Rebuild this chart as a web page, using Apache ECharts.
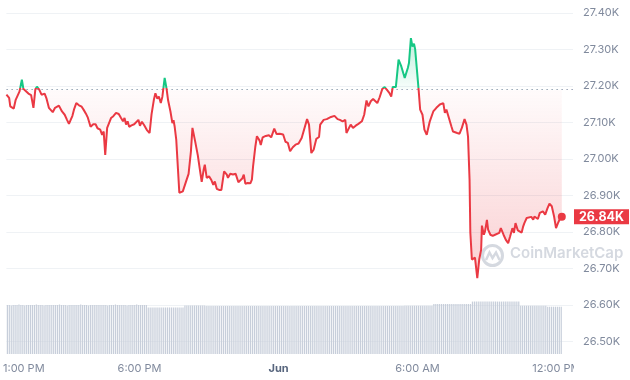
<!DOCTYPE html>
<html>
<head>
<meta charset="utf-8">
<script src="https://cdn.jsdelivr.net/npm/echarts@6/dist/echarts.min.js"></script>
<style>html,body{margin:0;padding:0;background:#fff}#c{width:630px;height:380px}</style>
</head>
<body>
<div id="c"></div>
<script>
// Times: minutes since 00:00 May 31; prices in USD
const times = [
735,742,745,754,759,764,769,775,779,785,
792,799,805,810,814,820,826,834,839,845,
850,855,861,866,871,879,886,892,897,902,
906,910,916,923,930,936,941,946,953,960,
966,971,975,978,983,987,991,996,1000,1006,
1012,1019,1026,1032,1037,1041,1045,1049,1053,1059,
1066,1071,1077,1081,1086,1092,1099,1106,1111,1117,
1121,1126,1130,1135,1139,1145,1150,1154,1160,1165,
1168,1171,1175,1179,1183,1188,1192,1197,1202,1207,
1213,1217,1224,1231,1237,1241,1246,1249,1254,1260,
1266,1271,1275,1280,1286,1292,1299,1306,1309,1315,
1322,1329,1336,1341,1346,1350,1354,1360,1367,1371,
1374,1380,1384,1391,1394,1399,1407,1415,1421,1429,
1435,1443,1452,1458,1464,1470,1477,1484,1492,1500,
1505,1514,1519,1525,1531,1538,1545,1548,1557,1565,
1576,1585,1593,1599,1606,1613,1616,1621,1627,1633,
1640,1647,1656,1662,1668,1673,1679,1685,1690,1696,
1702,1709,1715,1722,1727,1732,1736,1741,1744,1751,
1758,1767,1775,1778,1783,1787,1791,1794,1798,1803,
1807,1813,1818,1824,1828,1832,1841,1849,1858,1867,
1871,1875,1879,1888,1892,1896,1903,1909,1915,1922,
1927,1931,1935,1937,1941,1946,1949,1955,1960,1965,
1967,1972,1975,1980,1983,1989,1995,2001,2006,2012,
2016,2023,2029,2035,2040,2046,2050,2054,2060,2065,
2070,2074,2077,2083,2088,2095,2100,2103,2108,2112,
2117,2120,2125,2131,2137,2142,2148,2154,2159,2164,
2168,2174
];
const prices = [
27176,27167,27144,27138,27162,27161,27185,27217,27192,27186,
27179,27175,27140,27191,27198,27190,27176,27179,27165,27140,
27144,27128,27140,27136,27146,27130,27121,27107,27096,27098,
27118,27135,27153,27147,27143,27133,27124,27113,27088,27095,
27095,27084,27088,27080,27066,27075,27011,27085,27088,27112,
27117,27126,27123,27112,27103,27112,27094,27103,27088,27092,
27095,27090,27107,27091,27102,27092,27079,27071,27122,27162,
27180,27165,27171,27153,27170,27222,27192,27160,27130,27098,
27106,27088,27053,27055,26907,26902,26911,26906,26943,26959,
27020,27085,27048,27009,26965,26937,26970,26984,26948,26952,
26942,26929,26938,26918,26915,26915,26966,26957,26948,26959,
26957,26959,26936,26932,26946,26957,26932,26934,26933,26943,
26979,27034,27062,27050,27038,27059,27063,27065,27059,27083,
27068,27069,27067,27047,27044,27021,27032,27039,27042,27057,
27062,27109,27094,27016,27025,27055,27060,27094,27107,27109,
27115,27118,27109,27107,27103,27107,27071,27069,27094,27085,
27091,27096,27103,27121,27160,27144,27158,27164,27160,27153,
27169,27192,27197,27188,27181,27171,27197,27201,27197,27272,
27254,27222,27249,27263,27331,27308,27316,27301,27299,27190,
27135,27121,27080,27066,27071,27103,27130,27140,27149,27153,
27126,27135,27121,27089,27075,27080,27071,27069,27085,27109,
27094,27061,26943,26798,26724,26719,26729,26673,26724,26751,
26817,26792,26801,26833,26806,26792,26789,26792,26787,26797,
26810,26792,26778,26769,26787,26810,26797,26824,26804,26808,
26798,26815,26824,26838,26842,26841,26833,26842,26838,26835,
26852,26847,26856,26847,26865,26877,26870,26842,26810,26824,
26833,26841
];
const baselinePrice = 27190;
// Volume bars: one per 5 minutes starting at volumeStart (relative units)
const volumeStart = 735;
const volumeStepMin = 5;
const volumes = [
1.00,1.00,0.99,1.00,1.00,1.00,1.01,1.00,1.00,0.99,1.00,1.00,1.00,1.00,1.00,1.01,1.00,1.00,1.00,0.99,1.00,1.00,1.00,1.00,
1.00,1.00,1.00,1.01,1.00,1.00,1.00,0.99,1.00,1.00,1.00,1.00,1.00,1.00,1.01,1.00,1.00,1.00,0.99,1.00,1.00,1.00,1.00,1.00,
1.00,1.00,1.00,1.00,0.99,1.00,1.00,1.00,1.01,1.00,1.00,1.00,1.00,1.00,0.99,1.00,1.00,1.00,1.00,1.01,1.00,1.00,1.00,1.00,
1.00,0.95,0.95,0.95,0.95,0.95,0.95,0.95,0.95,0.95,0.95,0.95,0.95,0.95,0.95,0.95,0.95,0.95,0.95,0.95,0.99,0.99,0.99,0.99,
0.99,0.99,0.99,0.99,0.99,0.99,0.99,0.98,0.98,0.98,0.98,0.98,0.98,0.98,0.98,0.98,0.98,0.98,0.98,0.98,0.98,0.98,0.98,0.98,
0.98,0.98,0.98,0.98,0.98,0.98,0.98,0.98,0.98,0.98,0.98,0.98,0.98,0.98,0.98,0.98,0.98,0.98,0.98,0.98,0.98,0.98,0.98,0.98,
0.98,0.98,0.98,0.98,0.98,0.98,0.98,0.98,0.98,0.98,0.98,0.98,0.98,0.98,0.98,0.98,0.98,0.98,0.98,0.98,0.98,0.98,0.98,0.98,
0.98,0.98,0.98,0.98,0.98,0.98,0.98,0.98,0.98,0.98,0.98,0.98,0.98,0.98,0.98,0.98,0.98,0.98,0.98,0.98,0.98,0.98,0.98,0.98,
0.98,0.98,0.98,0.98,0.98,0.98,0.98,0.98,0.98,0.98,0.98,0.98,0.98,0.98,0.985,0.985,0.985,0.985,0.985,0.985,0.985,0.985,0.985,0.985,
0.985,0.985,0.985,0.985,0.985,1.02,1.02,1.02,1.02,1.02,1.02,1.02,1.02,1.02,1.02,1.02,1.02,1.02,1.02,1.02,1.02,1.02,1.02,1.02,
1.02,1.07,1.07,1.07,1.07,1.07,1.07,1.07,1.07,1.07,1.07,1.07,1.07,1.07,1.07,1.07,1.07,1.07,1.07,1.07,1.07,1.07,1.07,1.07,
1.07,1.07,0.985,0.985,0.985,0.985,0.985,0.985,0.985,0.985,0.985,0.985,0.985,0.985,0.985,0.985,0.965,0.965,0.965,0.965,0.965,0.965,0.965,0.965
];
const xTickValues = [780, 1080, 1440, 1800, 2160];
const xTickLabels = ['1:00 PM', '6:00 PM', 'Jun', '6:00 AM', '12:00 PM'];
const xMin = 735, xMax = 2203;
const yMin = 26465, yMax = 27400;

const RED = '#ea3943', GREEN = '#16c784';
const linePoints = times.map((t, i) => [t, prices[i]]);
const volPoints = volumes.map((v, i) => [volumeStart + volumeStepMin * i + volumeStepMin / 2, v]);
const lastPrice = prices[prices.length - 1];
const lastTime = times[times.length - 1];
const pMax = Math.max(...prices), pMin = Math.min(...prices);
const baseOff = (pMax - baselinePrice) / (pMax - pMin);

const chart = echarts.init(document.getElementById('c'), null, {renderer: 'canvas'});
chart.setOption({
  animation: false,
  textStyle: {fontFamily: 'Inter'},
  grid: {left: 0, right: 57, top: 13, bottom: 26},
  xAxis: {
    type: 'value', min: xMin, max: xMax,
    axisLine: {show: false}, axisTick: {show: false}, splitLine: {show: false},
    axisLabel: {
      customValues: xTickValues,
      margin: 9, color: '#808a9d', fontSize: 11, fontFamily: 'Inter',
      formatter: v => {
        const k = xTickValues.indexOf(v);
        const s = k >= 0 ? xTickLabels[k] : '';
        return s === 'Jun' ? '{b|' + s + '}' : s;
      },
      rich: {b: {fontWeight: 'bold', color: '#58667e', fontSize: 11, fontFamily: 'Inter'}}
    }
  },
  yAxis: [{
    type: 'value', position: 'right', min: yMin, max: yMax, splitNumber: 9,
    axisLine: {show: false}, axisTick: {show: false},
    splitLine: {show: true, showMinLine: false, lineStyle: {color: '#eff2f5', width: 1}},
    axisLabel: {
      showMinLabel: false, margin: 10, color: '#808a9d', fontSize: 11, fontFamily: 'Inter',
      formatter: v => (v / 1000).toFixed(2) + 'K'
    }
  }, {
    type: 'value', min: 0, max: 6.96, show: false
  }],
  series: [{
    type: 'line', data: linePoints, showSymbol: false, symbol: 'none', z: 5,
    lineStyle: {
      width: 2,
      color: new echarts.graphic.LinearGradient(0, 0, 0, 1, [
        {offset: 0, color: GREEN}, {offset: baseOff, color: GREEN},
        {offset: baseOff, color: RED}, {offset: 1, color: RED}
      ])
    },
    areaStyle: {
      origin: baselinePrice, opacity: 1,
      color: new echarts.graphic.LinearGradient(0, 0, 0, 1, [
        {offset: 0, color: 'rgba(22,199,132,0.28)'},
        {offset: baseOff, color: 'rgba(22,199,132,0.03)'},
        {offset: baseOff, color: 'rgba(234,57,67,0.02)'},
        {offset: 1, color: 'rgba(234,57,67,0.24)'}
      ])
    },
    markLine: {
      silent: true, symbol: 'none',
      data: [{
        yAxis: baselinePrice, label: {show: false},
        lineStyle: {color: '#9aa3b5', type: [1.5, 3.5], width: 1}
      }, {
        yAxis: lastPrice,
        lineStyle: {color: 'rgba(0,0,0,0)', width: 0, type: 'solid'},
        label: {
          show: true, position: 'end', distance: 1,
          formatter: () => (lastPrice / 1000).toFixed(2) + 'K',
          backgroundColor: RED, color: '#fff', fontWeight: 'bold', fontSize: 12.5,
          fontFamily: 'Inter', padding: [1, 5, 1, 5], borderRadius: 0
        }
      }]
    }
  }, {
    type: 'bar', yAxisIndex: 1, data: volPoints, barWidth: 1.2, z: 1,
    itemStyle: {color: '#c7ceda'}, silent: true
  }, {
    type: 'scatter', data: [[lastTime, lastPrice]], symbolSize: 8, z: 6,
    itemStyle: {color: RED, opacity: 1}
  }],
  graphic: [
    {type: 'group', left: 480, top: 243, z: 0, children: [
      {type: 'circle', shape: {cx: 11, cy: 11, r: 10}, style: {fill: 'none', stroke: '#d5d9e0', lineWidth: 3}},
      {type: 'polyline', shape: {points: [[4.5, 15.5], [8, 8], [11, 13.5], [14.5, 8], [18, 15.5]]}, style: {fill: 'none', stroke: '#d5d9e0', lineWidth: 2.5}}
    ]},
    {type: 'text', left: 510, top: 246, z: 0, style: {text: 'CoinMarketCap', font: '600 15px Inter', fill: '#d5d9e0'}},
    {type: 'rect', left: 574, top: 358, z: 100, shape: {width: 56, height: 22}, style: {fill: '#ffffff'}}
  ]
});
</script>
</body>
</html>
